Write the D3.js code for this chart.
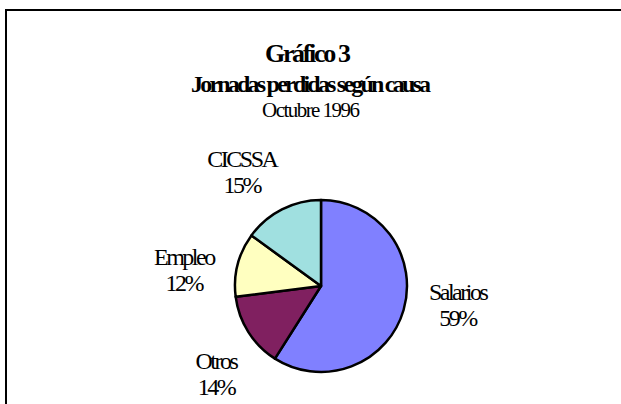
<!DOCTYPE html>
<html>
<head>
<meta charset="utf-8">
<script src="https://cdn.jsdelivr.net/npm/d3@7.9.0/dist/d3.min.js"></script>
<style>
  body { margin: 0; background: #fff; }
  text { font-family: "Liberation Serif", "Times New Roman", serif; fill: #000; }
</style>
</head>
<body>
<div id="chart"></div>
<script>
// data
const categories = ["Salarios", "Otros", "Empleo", "CICSSA"];
const values = [59, 14, 12, 15];
const colors = ["#8080ff", "#802060", "#ffffc0", "#a0e0e0"];
const titleLines = ["Gráfico 3", "Jornadas perdidas según causa", "Octubre 1996"];

const width = 621, height = 404;

const svg = d3.select("#chart")
  .append("svg")
    .attr("width", width)
    .attr("height", height);

svg.append("rect")
    .attr("width", width)
    .attr("height", height)
    .attr("fill", "#fff");

// chart frame (runs off the right and bottom edges)
svg.append("rect")
    .attr("x", 6)
    .attr("y", 10)
    .attr("width", 800)
    .attr("height", 600)
    .attr("fill", "none")
    .attr("stroke", "#000")
    .attr("stroke-width", 2);

// titles
const titleStyle = [
  {x: 308, y: 62, size: 26, weight: "bold", len: 86},
  {x: 311, y: 92, size: 24, weight: "bold", len: 240},
  {x: 311, y: 117, size: 21, weight: "normal", len: 98}
];
svg.selectAll("text.title")
  .data(titleLines)
  .join("text")
    .attr("class", "title")
    .attr("x", (d, i) => titleStyle[i].x)
    .attr("y", (d, i) => titleStyle[i].y)
    .attr("text-anchor", "middle")
    .attr("textLength", (d, i) => titleStyle[i].len)
    .attr("lengthAdjust", "spacing")
    .style("font-size", (d, i) => titleStyle[i].size + "px")
    .style("font-weight", (d, i) => titleStyle[i].weight)
    .text(d => d);

// pie
const cx = 321, cy = 286, r = 86;
const pie = d3.pie().sort(null).value(d => d.value);
const arcs = pie(categories.map((c, i) => ({name: c, value: values[i], color: colors[i]})));
const arc = d3.arc().innerRadius(0).outerRadius(r);

const g = svg.append("g")
    .attr("transform", `translate(${cx},${cy})`);

g.selectAll("path")
  .data(arcs)
  .join("path")
    .attr("d", arc)
    .attr("fill", d => d.data.color)
    .attr("stroke", "#000")
    .attr("stroke-width", 2.5)
    .attr("stroke-linejoin", "round");

// labels: a bit ahead of the slice middle, like the original
const labelArc = d3.arc().innerRadius(138).outerRadius(138);
const shift = -0.14;
const lab = g.selectAll("g.lab")
  .data(arcs)
  .join("g")
    .attr("class", "lab")
    .attr("transform", d => {
      const [x, y] = labelArc.centroid({startAngle: d.startAngle + shift, endAngle: d.endAngle + shift});
      return `translate(${x},${y})`;
    });

lab.append("text")
    .attr("text-anchor", "middle")
    .attr("y", -6)
    .style("font-size", "24px")
    .style("letter-spacing", "-2.5px")
    .text(d => d.data.name);

lab.append("text")
    .attr("text-anchor", "middle")
    .attr("y", 20)
    .style("font-size", "24px")
    .style("letter-spacing", "-2.5px")
    .text(d => Math.round(d.data.value / d3.sum(values) * 100) + "%");
</script>
</body>
</html>
